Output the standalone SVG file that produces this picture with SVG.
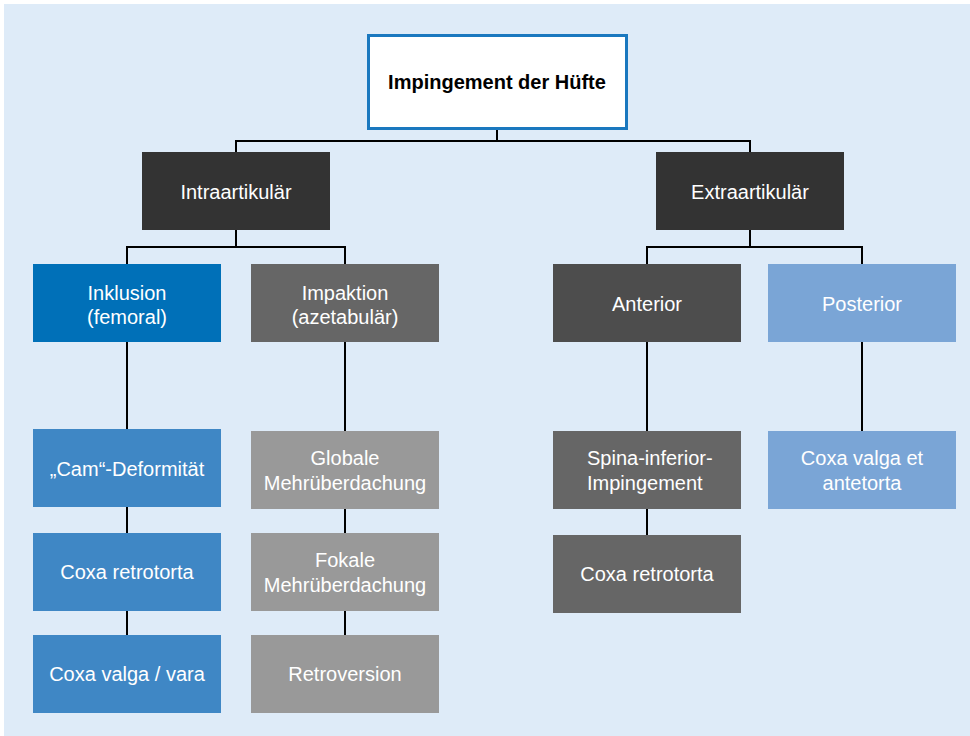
<svg xmlns="http://www.w3.org/2000/svg" width="970" height="736" viewBox="0 0 970 736">
<style>
.t{font-family:"Liberation Sans",Arial,sans-serif;font-size:20px;fill:#ffffff;text-anchor:middle}
.root{font-family:"Liberation Sans",Arial,sans-serif;font-size:20px;font-weight:bold;fill:#000000;text-anchor:middle}
.c{fill:none;stroke:#000000;stroke-width:2}
.dark{fill:#333333}
.incl{fill:#0070b8}
.inclc{fill:#3f87c5}
.imp{fill:#666666}
.impc{fill:#999999}
.ant{fill:#4d4d4d}
.post{fill:#7aa5d6}
</style>
<rect x="4" y="4" width="966" height="732" fill="#deebf8"/>
<g id="connectors">
<path class="c" d="M497 130V141H236V152M497 141H750V152"/>
<path class="c" d="M236 230V247H127V264M236 247H345V264"/>
<path class="c" d="M750 230V247H647V264M750 247H862V264"/>
<path class="c" d="M127 342V429M127 507V533M127 611V635"/>
<path class="c" d="M345 342V431M345 509V533M345 611V635"/>
<path class="c" d="M647 342V431M647 509V535"/>
<path class="c" d="M862 342V431"/>
</g>
<g id="root">
<rect x="368.5" y="35.5" width="258" height="93" fill="#ffffff" stroke="#1a78bf" stroke-width="3"/>
<text class="root" x="497" y="89">Impingement der Hüfte</text>
</g>
<g id="intra">
<rect class="dark" x="142" y="152" width="188" height="78"/>
<text class="t" x="236" y="199">Intraartikulär</text>
</g>
<g id="extra">
<rect class="dark" x="656" y="152" width="188" height="78"/>
<text class="t" x="750" y="199">Extraartikulär</text>
</g>
<g id="inklusion">
<rect class="incl" x="33" y="264" width="188" height="78"/>
<text class="t" x="127" y="300">Inklusion</text>
<text class="t" x="127" y="324">(femoral)</text>
</g>
<g id="impaktion">
<rect class="imp" x="251" y="264" width="188" height="78"/>
<text class="t" x="345" y="300">Impaktion</text>
<text class="t" x="345" y="324">(azetabulär)</text>
</g>
<g id="anterior">
<rect class="ant" x="553" y="264" width="188" height="78"/>
<text class="t" x="647" y="311">Anterior</text>
</g>
<g id="posterior">
<rect class="post" x="768" y="264" width="188" height="78"/>
<text class="t" x="862" y="311">Posterior</text>
</g>
<g id="cam">
<rect class="inclc" x="33" y="429" width="188" height="78"/>
<text class="t" x="127" y="476">„Cam“-Deformität</text>
</g>
<g id="coxa-retrotorta-1">
<rect class="inclc" x="33" y="533" width="188" height="78"/>
<text class="t" x="127" y="579">Coxa retrotorta</text>
</g>
<g id="coxa-valga-vara">
<rect class="inclc" x="33" y="635" width="188" height="78"/>
<text class="t" x="127" y="681">Coxa valga / vara</text>
</g>
<g id="globale">
<rect class="impc" x="251" y="431" width="188" height="78"/>
<text class="t" x="345" y="465">Globale</text>
<text class="t" x="345" y="490">Mehrüberdachung</text>
</g>
<g id="fokale">
<rect class="impc" x="251" y="533" width="188" height="78"/>
<text class="t" x="345" y="567">Fokale</text>
<text class="t" x="345" y="592">Mehrüberdachung</text>
</g>
<g id="retroversion">
<rect class="impc" x="251" y="635" width="188" height="78"/>
<text class="t" x="345" y="681">Retroversion</text>
</g>
<g id="spina">
<rect class="imp" x="553" y="431" width="188" height="78"/>
<text class="t" x="587" y="465" style="text-anchor:start">Spina-inferior-</text>
<text class="t" x="587" y="490" style="text-anchor:start">Impingement</text>
</g>
<g id="coxa-retrotorta-2">
<rect class="imp" x="553" y="535" width="188" height="78"/>
<text class="t" x="647" y="581">Coxa retrotorta</text>
</g>
<g id="coxa-valga-antetorta">
<rect class="post" x="768" y="431" width="188" height="78"/>
<text class="t" x="862" y="465">Coxa valga et</text>
<text class="t" x="862" y="490">antetorta</text>
</g>
</svg>
